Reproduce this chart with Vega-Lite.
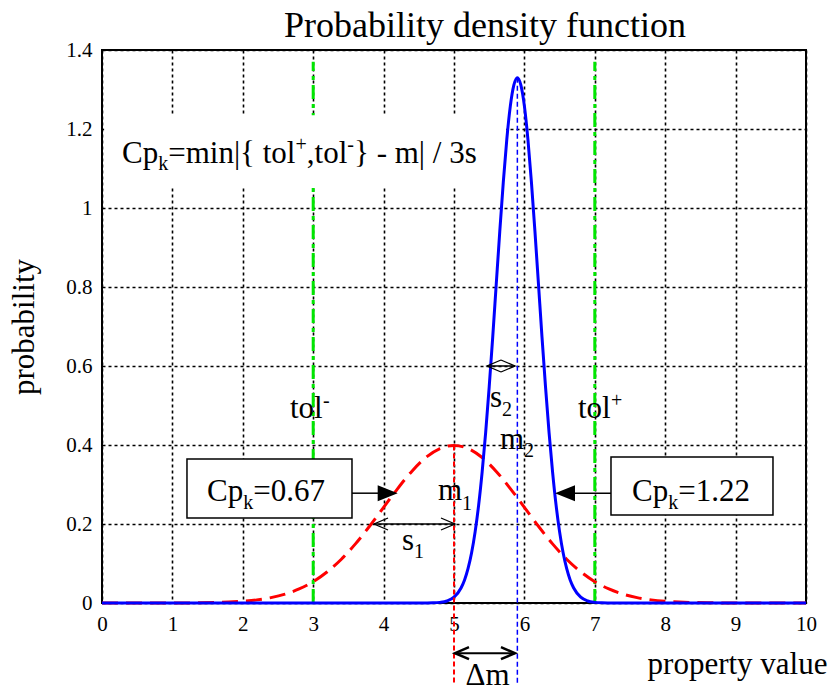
{
  "$schema": "https://vega.github.io/schema/vega-lite/v6.json",
  "width": 704,
  "height": 553,
  "autosize": "none",
  "padding": {"left": 102, "top": 50, "right": 23, "bottom": 90},
  "background": "white",
  "config": {
    "font": "Liberation Serif",
    "view": {"stroke": "#000", "strokeWidth": 2}
  },
  "encoding": {
    "x": {
      "field": "x",
      "type": "quantitative",
      "scale": {"domain": [0, 10], "nice": false, "zero": false},
      "axis": {
        "title": "property value",
        "values": [0, 1, 2, 3, 4, 5, 6, 7, 8, 9, 10],
        "format": "d",
        "labelFont": "Liberation Serif",
        "labelFontSize": 21,
        "labelColor": "#000",
        "labelPadding": 10,
        "labelFlush": false,
        "labelOverlap": false,
        "ticks": false,
        "domain": false,
        "grid": true,
        "gridColor": "#000",
        "gridDash": [3, 3],
        "gridWidth": 1.6,
        "titleFont": "Liberation Serif",
        "titleFontSize": 31,
        "titleFontWeight": "normal",
        "titleColor": "#000",
        "titleX": 725,
        "titleY": 70,
        "titleAlign": "right",
        "titleBaseline": "alphabetic"
      }
    },
    "y": {
      "field": "y",
      "type": "quantitative",
      "scale": {"domain": [0, 1.4], "nice": false, "zero": false},
      "axis": {
        "title": "probability",
        "values": [0, 0.2, 0.4, 0.6, 0.8, 1, 1.2, 1.4],
        "format": "~r",
        "labelFont": "Liberation Serif",
        "labelFontSize": 21,
        "labelColor": "#000",
        "labelPadding": 10,
        "labelFlush": false,
        "labelOverlap": false,
        "ticks": false,
        "domain": false,
        "grid": true,
        "gridColor": "#000",
        "gridDash": [3, 3],
        "gridWidth": 1.6,
        "titleFont": "Liberation Serif",
        "titleFontSize": 31,
        "titleFontWeight": "normal",
        "titleColor": "#000",
        "titleX": -78,
        "titleY": 276.5,
        "titleAngle": -90,
        "titleAlign": "center",
        "titleBaseline": "middle"
      }
    }
  },
  "layer": [
    {
      "data": {"values": [{"x": 3, "y": 0, "y2": 1.37}, {"x": 7, "y": 0, "y2": 1.37}]},
      "mark": {"type": "rule", "color": "#00e600", "strokeWidth": 3, "strokeDash": [14, 5, 4, 5]},
      "encoding": {"y2": {"field": "y2"}}
    },
    {
      "data": {"values": [{"x": 0.03, "x2": 5.74, "y": 1.055, "y2": 1.235}]},
      "mark": {"type": "rect", "fill": "white", "strokeWidth": 0},
      "encoding": {"x2": {"field": "x2"}, "y2": {"field": "y2"}}
    },
    {
      "data": {"values": [
        {"x": 0, "y": 0}, {"x": 1.0, "y": 0.0001}, {"x": 1.4, "y": 0.0006}, {"x": 1.6, "y": 0.0012},
        {"x": 1.8, "y": 0.0024}, {"x": 2.0, "y": 0.0044}, {"x": 2.2, "y": 0.0079}, {"x": 2.4, "y": 0.0136},
        {"x": 2.6, "y": 0.0224}, {"x": 2.8, "y": 0.0355}, {"x": 3.0, "y": 0.054}, {"x": 3.2, "y": 0.079},
        {"x": 3.4, "y": 0.1109}, {"x": 3.6, "y": 0.1497}, {"x": 3.8, "y": 0.1942}, {"x": 4.0, "y": 0.242},
        {"x": 4.2, "y": 0.2897}, {"x": 4.4, "y": 0.3332}, {"x": 4.6, "y": 0.3683}, {"x": 4.8, "y": 0.391},
        {"x": 5.0, "y": 0.3989}, {"x": 5.2, "y": 0.391}, {"x": 5.4, "y": 0.3683}, {"x": 5.6, "y": 0.3332},
        {"x": 5.8, "y": 0.2897}, {"x": 6.0, "y": 0.242}, {"x": 6.2, "y": 0.1942}, {"x": 6.4, "y": 0.1497},
        {"x": 6.6, "y": 0.1109}, {"x": 6.8, "y": 0.079}, {"x": 7.0, "y": 0.054}, {"x": 7.2, "y": 0.0355},
        {"x": 7.4, "y": 0.0224}, {"x": 7.6, "y": 0.0136}, {"x": 7.8, "y": 0.0079}, {"x": 8.0, "y": 0.0044},
        {"x": 8.2, "y": 0.0024}, {"x": 8.4, "y": 0.0012}, {"x": 8.6, "y": 0.0006}, {"x": 9.0, "y": 0.0001},
        {"x": 10, "y": 0}
      ]},
      "mark": {"type": "line", "color": "#ff0000", "strokeWidth": 3, "strokeDash": [16, 8], "interpolate": "monotone"}
    },
    {
      "data": {"values": [
        {"x": 0, "y": 0}, {"x": 4.5, "y": 0}, {"x": 4.6, "y": 0.0001}, {"x": 4.7, "y": 0.0004},
        {"x": 4.8, "y": 0.0016}, {"x": 4.9, "y": 0.0051}, {"x": 5.0, "y": 0.0148}, {"x": 5.1, "y": 0.038},
        {"x": 5.15, "y": 0.0584}, {"x": 5.2, "y": 0.0874}, {"x": 5.25, "y": 0.127}, {"x": 5.3, "y": 0.18},
        {"x": 5.35, "y": 0.2477}, {"x": 5.4, "y": 0.332}, {"x": 5.45, "y": 0.432}, {"x": 5.5, "y": 0.547},
        {"x": 5.55, "y": 0.673}, {"x": 5.6, "y": 0.807}, {"x": 5.65, "y": 0.94}, {"x": 5.7, "y": 1.065},
        {"x": 5.75, "y": 1.174}, {"x": 5.8, "y": 1.258}, {"x": 5.85, "y": 1.311}, {"x": 5.9, "y": 1.33},
        {"x": 5.95, "y": 1.311}, {"x": 6.0, "y": 1.258}, {"x": 6.05, "y": 1.174}, {"x": 6.1, "y": 1.065},
        {"x": 6.15, "y": 0.94}, {"x": 6.2, "y": 0.807}, {"x": 6.25, "y": 0.673}, {"x": 6.3, "y": 0.547},
        {"x": 6.35, "y": 0.432}, {"x": 6.4, "y": 0.332}, {"x": 6.45, "y": 0.2477}, {"x": 6.5, "y": 0.18},
        {"x": 6.55, "y": 0.127}, {"x": 6.6, "y": 0.0874}, {"x": 6.65, "y": 0.0584}, {"x": 6.7, "y": 0.038},
        {"x": 6.8, "y": 0.0148}, {"x": 6.9, "y": 0.0051}, {"x": 7.0, "y": 0.0016}, {"x": 7.1, "y": 0.0004},
        {"x": 7.2, "y": 0.0001}, {"x": 7.3, "y": 0}, {"x": 10, "y": 0}
      ]},
      "mark": {"type": "line", "color": "#0000ff", "strokeWidth": 3, "interpolate": "monotone"}
    },
    {
      "data": {"values": [{"x": 5, "y": 0.399, "y2": -0.2025}]},
      "mark": {"type": "rule", "color": "#ff0000", "strokeWidth": 2, "strokeDash": [5, 3]},
      "encoding": {"y2": {"field": "y2"}}
    },
    {
      "data": {"values": [{"x": 5.9, "y": 1.33, "y2": -0.2025}]},
      "mark": {"type": "rule", "color": "#0000ff", "strokeWidth": 1.5, "strokeDash": [5, 3]},
      "encoding": {"y2": {"field": "y2"}}
    },
    {
      "data": {"values": [
        {"x": 1.207, "x2": 3.551, "y": 0.2152, "y2": 0.3646},
        {"x": 7.23, "x2": 9.531, "y": 0.2228, "y2": 0.3696}
      ]},
      "mark": {"type": "rect", "fill": "white", "stroke": "#000", "strokeWidth": 1.5},
      "encoding": {"x2": {"field": "x2"}, "y2": {"field": "y2"}}
    },
    {
      "data": {"values": [
        {"x": 3.551, "x2": 3.95, "y": 0.278},
        {"x": 6.7, "x2": 7.23, "y": 0.278},
        {"x": 3.864, "x2": 5.014, "y": 0.2},
        {"x": 5.469, "x2": 5.866, "y": 0.6}
      ]},
      "mark": {"type": "rule", "color": "#000", "strokeWidth": 1.5},
      "encoding": {"x2": {"field": "x2"}}
    },
    {
      "data": {"values": [{"x": 5.014, "x2": 5.866, "y": -0.127}]},
      "mark": {"type": "rule", "color": "#000", "strokeWidth": 2},
      "encoding": {"x2": {"field": "x2"}}
    },
    {
      "data": {"values": [{"x": 4.2, "y": 0.278}]},
      "mark": {"type": "point", "shape": "M0,0L-2,-0.8L-2,0.8Z", "size": 400, "filled": true, "color": "#000", "opacity": 1}
    },
    {
      "data": {"values": [{"x": 6.435, "y": 0.278}]},
      "mark": {"type": "point", "shape": "M0,0L2,-0.8L2,0.8Z", "size": 400, "filled": true, "color": "#000", "opacity": 1}
    },
    {
      "data": {"values": [{"x": 5.014, "y": 0.2}, {"x": 5.866, "y": 0.6}]},
      "mark": {"type": "point", "shape": "M-1.4,-0.6L0,0L-1.4,0.6", "size": 400, "filled": false, "color": "#000", "strokeWidth": 1.3, "opacity": 1}
    },
    {
      "data": {"values": [{"x": 3.864, "y": 0.2}, {"x": 5.469, "y": 0.6}]},
      "mark": {"type": "point", "shape": "M1.4,-0.6L0,0L1.4,0.6", "size": 400, "filled": false, "color": "#000", "strokeWidth": 1.3, "opacity": 1}
    },
    {
      "data": {"values": [{"x": 5.866, "y": -0.127}]},
      "mark": {"type": "point", "shape": "M-1.4,-0.6L0,0L-1.4,0.6", "size": 400, "filled": false, "color": "#000", "strokeWidth": 2.5, "opacity": 1}
    },
    {
      "data": {"values": [{"x": 5.014, "y": -0.127}]},
      "mark": {"type": "point", "shape": "M1.4,-0.6L0,0L1.4,0.6", "size": 400, "filled": false, "color": "#000", "strokeWidth": 2.5, "opacity": 1}
    },
    {
      "data": {"values": [{"x": 5.44, "y": 1.433, "t": "Probability density function"}]},
      "mark": {"type": "text", "font": "Liberation Serif", "fontSize": 36, "align": "center", "baseline": "alphabetic", "color": "#000"},
      "encoding": {"text": {"field": "t"}}
    },
    {
      "data": {"values": [
        {"x": 0.284, "y": 1.114, "t": "Cp"},
        {"x": 0.94, "y": 1.114, "t": "=min|{ tol"},
        {"x": 2.909, "y": 1.114, "t": ",tol"},
        {"x": 3.58, "y": 1.114, "t": "} - m| / 3s"},
        {"x": 2.67, "y": 0.468, "t": "tol"},
        {"x": 6.761, "y": 0.468, "t": "tol"},
        {"x": 5.511, "y": 0.496, "t": "s"},
        {"x": 5.653, "y": 0.39, "t": "m"},
        {"x": 4.773, "y": 0.261, "t": "m"},
        {"x": 4.261, "y": 0.134, "t": "s"},
        {"x": 5.163, "y": -0.208, "t": "Δm"},
        {"x": 1.491, "y": 0.258, "t": "Cp"},
        {"x": 2.148, "y": 0.258, "t": "=0.67"},
        {"x": 7.528, "y": 0.258, "t": "Cp"},
        {"x": 8.185, "y": 0.258, "t": "=1.22"}
      ]},
      "mark": {"type": "text", "font": "Liberation Serif", "fontSize": 31, "align": "left", "baseline": "alphabetic", "color": "#000"},
      "encoding": {"text": {"field": "t"}}
    },
    {
      "data": {"values": [
        {"x": 0.798, "y": 1.096, "t": "k"},
        {"x": 2.749, "y": 1.144, "t": "+"},
        {"x": 3.484, "y": 1.144, "t": "-"},
        {"x": 3.139, "y": 0.496, "t": "-"},
        {"x": 7.23, "y": 0.496, "t": "+"},
        {"x": 5.682, "y": 0.473, "t": "2"},
        {"x": 5.994, "y": 0.37, "t": "2"},
        {"x": 5.114, "y": 0.235, "t": "1"},
        {"x": 4.432, "y": 0.114, "t": "1"},
        {"x": 2.006, "y": 0.238, "t": "k"},
        {"x": 8.043, "y": 0.238, "t": "k"}
      ]},
      "mark": {"type": "text", "font": "Liberation Serif", "fontSize": 20, "align": "left", "baseline": "alphabetic", "color": "#000"},
      "encoding": {"text": {"field": "t"}}
    }
  ]
}
